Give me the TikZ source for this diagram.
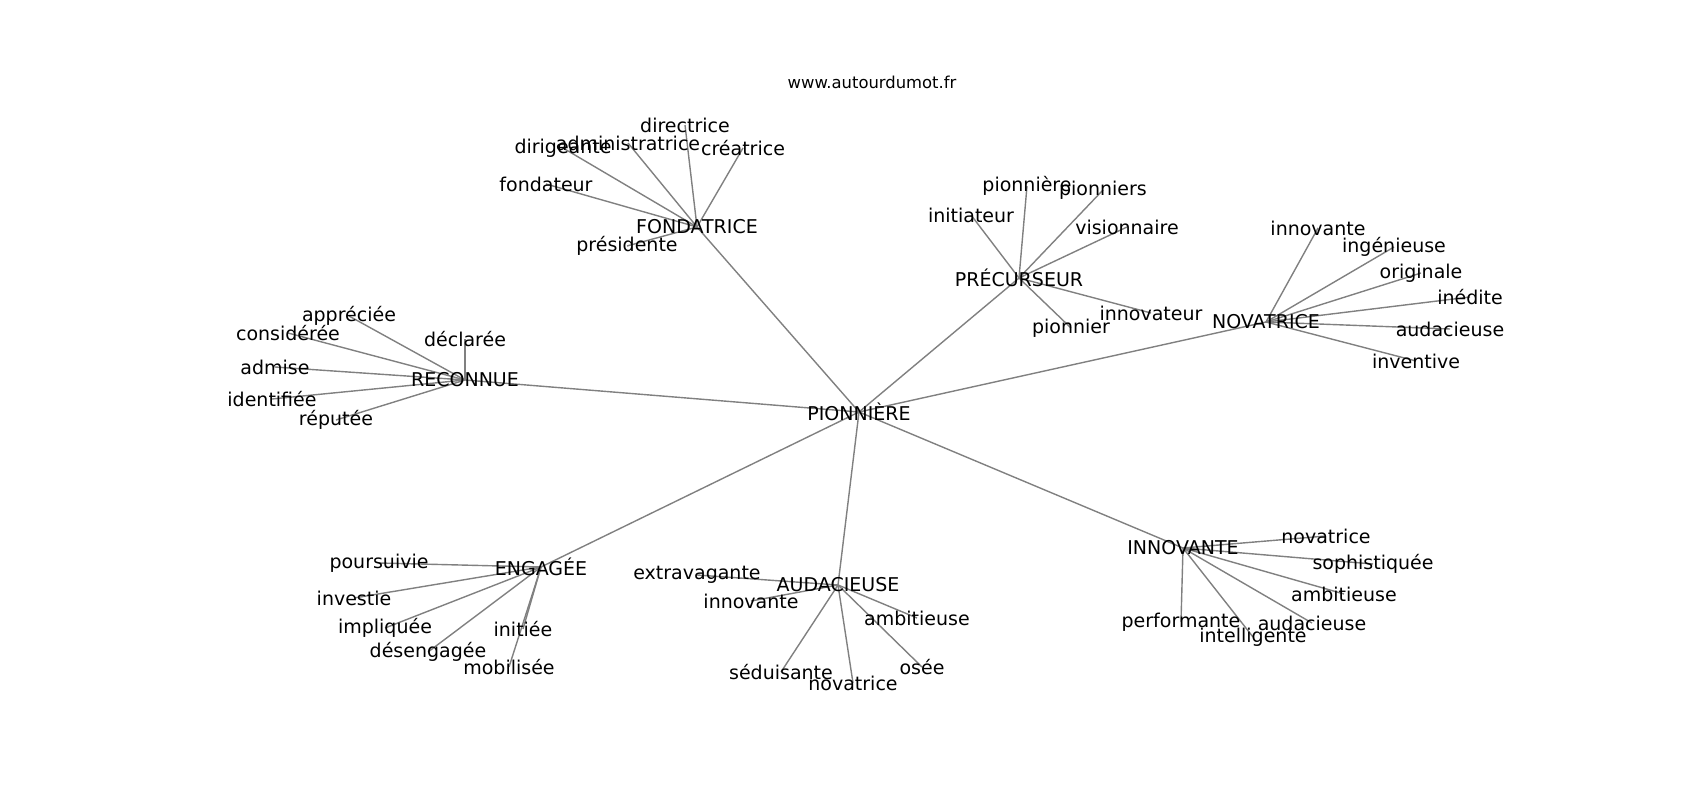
\documentclass[tikz,border=0pt]{standalone}
\usepackage{fontspec}
\setmainfont{DejaVu Sans}
\usetikzlibrary{backgrounds}
\begin{document}
\begin{tikzpicture}[x=1pt, y=-1pt,
    word/.style={font=\fontsize{19}{22}\selectfont, inner sep=0pt},
    vertex/.style={inner sep=0pt, outer sep=0pt, minimum size=0pt, label={[word]center:#1}},
    link/.style={draw=gray, line width=1.4pt}]
    \useasboundingbox (0,0) rectangle (1700,800);
    \node[font=\fontsize{16.4}{19}\selectfont] (site) at (872,82) {www.autourdumot.fr};
    % centre
    \node[vertex=PIONNIÈRE] (pionniere) at (859,412) {};
    % FONDATRICE
    \node[vertex=FONDATRICE] (fondatrice) at (697,227) {};
    \node[vertex=directrice] (fo-directrice) at (685,125) {};
    \node[vertex=administratrice] (fo-administratrice) at (628,143) {};
    \node[vertex=dirigeante] (fo-dirigeante) at (563,148) {};
    \node[vertex=créatrice] (fo-creatrice) at (743,148) {};
    \node[vertex=fondateur] (fo-fondateur) at (546,184) {};
    \node[vertex=présidente] (fo-presidente) at (627,246) {};
    % PRÉCURSEUR
    \node[vertex=PRÉCURSEUR] (precurseur) at (1019,278) {};
    \node[vertex=pionnière] (pr-pionniere) at (1027,186) {};
    \node[vertex=pionniers] (pr-pionniers) at (1103,190) {};
    \node[vertex=initiateur] (pr-initiateur) at (971,215) {};
    \node[vertex=visionnaire] (pr-visionnaire) at (1127,227) {};
    \node[vertex=innovateur] (pr-innovateur) at (1151,313) {};
    \node[vertex=pionnier] (pr-pionnier) at (1071,328) {};
    % NOVATRICE
    \node[vertex=NOVATRICE] (novatrice) at (1266,322) {};
    \node[vertex=innovante] (no-innovante) at (1318,228) {};
    \node[vertex=ingénieuse] (no-ingenieuse) at (1394,247) {};
    \node[vertex=originale] (no-originale) at (1421,273) {};
    \node[vertex=inédite] (no-inedite) at (1470,297) {};
    \node[vertex=audacieuse] (no-audacieuse) at (1450,329) {};
    \node[vertex=inventive] (no-inventive) at (1416,361) {};
    % RECONNUE
    \node[vertex=RECONNUE] (reconnue) at (465,380) {};
    \node[vertex=appréciée] (re-appreciee) at (349,316) {};
    \node[vertex=considérée] (re-consideree) at (288,333) {};
    \node[vertex=déclarée] (re-declaree) at (465,339) {};
    \node[vertex=admise] (re-admise) at (275,367) {};
    \node[vertex=identifiée] (re-identifiee) at (272,399) {};
    \node[vertex=réputée] (re-reputee) at (336,420) {};
    % ENGAGÉE
    \node[vertex=ENGAGÉE] (engagee) at (541,567) {};
    \node[vertex=poursuivie] (en-poursuivie) at (379,563) {};
    \node[vertex=investie] (en-investie) at (354,598) {};
    \node[vertex=impliquée] (en-impliquee) at (385,628) {};
    \node[vertex=désengagée] (en-desengagee) at (428,652) {};
    \node[vertex=mobilisée] (en-mobilisee) at (509,667) {};
    \node[vertex=initiée] (en-initiee) at (523,629) {};
    % AUDACIEUSE
    \node[vertex=AUDACIEUSE] (audacieuse) at (838,585) {};
    \node[vertex=extravagante] (au-extravagante) at (697,575) {};
    \node[vertex=innovante] (au-innovante) at (751,601) {};
    \node[vertex=ambitieuse] (au-ambitieuse) at (917,618) {};
    \node[vertex=osée] (au-osee) at (922,667) {};
    \node[vertex=séduisante] (au-seduisante) at (781,672) {};
    \node[vertex=novatrice] (au-novatrice) at (853,683) {};
    % INNOVANTE
    \node[vertex=INNOVANTE] (innovante) at (1183,548) {};
    \node[vertex=novatrice] (in-novatrice) at (1326,536) {};
    \node[vertex=sophistiquée] (in-sophistiquee) at (1373,564) {};
    \node[vertex=ambitieuse] (in-ambitieuse) at (1344,594) {};
    \node[vertex=audacieuse] (in-audacieuse) at (1312,623) {};
    \node[vertex=intelligente] (in-intelligente) at (1253,637) {};
    \node[vertex=performante] (in-performante) at (1181,622) {};
    \begin{scope}[on background layer]
    \path (pionniere) edge[link] (fondatrice);
    \path (pionniere) edge[link] (precurseur);
    \path (pionniere) edge[link] (novatrice);
    \path (pionniere) edge[link] (reconnue);
    \path (pionniere) edge[link] (engagee);
    \path (pionniere) edge[link] (audacieuse);
    \path (pionniere) edge[link] (innovante);
    \path (fondatrice) edge[link] (fo-directrice);
    \path (fondatrice) edge[link] (fo-administratrice);
    \path (fondatrice) edge[link] (fo-dirigeante);
    \path (fondatrice) edge[link] (fo-creatrice);
    \path (fondatrice) edge[link] (fo-fondateur);
    \path (fondatrice) edge[link] (fo-presidente);
    \path (precurseur) edge[link] (pr-pionniere);
    \path (precurseur) edge[link] (pr-pionniers);
    \path (precurseur) edge[link] (pr-initiateur);
    \path (precurseur) edge[link] (pr-visionnaire);
    \path (precurseur) edge[link] (pr-innovateur);
    \path (precurseur) edge[link] (pr-pionnier);
    \path (novatrice) edge[link] (no-innovante);
    \path (novatrice) edge[link] (no-ingenieuse);
    \path (novatrice) edge[link] (no-originale);
    \path (novatrice) edge[link] (no-inedite);
    \path (novatrice) edge[link] (no-audacieuse);
    \path (novatrice) edge[link] (no-inventive);
    \path (reconnue) edge[link] (re-appreciee);
    \path (reconnue) edge[link] (re-consideree);
    \path (reconnue) edge[link] (re-declaree);
    \path (reconnue) edge[link] (re-admise);
    \path (reconnue) edge[link] (re-identifiee);
    \path (reconnue) edge[link] (re-reputee);
    \path (engagee) edge[link] (en-poursuivie);
    \path (engagee) edge[link] (en-investie);
    \path (engagee) edge[link] (en-impliquee);
    \path (engagee) edge[link] (en-desengagee);
    \path (engagee) edge[link] (en-mobilisee);
    \path (engagee) edge[link] (en-initiee);
    \path (audacieuse) edge[link] (au-extravagante);
    \path (audacieuse) edge[link] (au-innovante);
    \path (audacieuse) edge[link] (au-ambitieuse);
    \path (audacieuse) edge[link] (au-osee);
    \path (audacieuse) edge[link] (au-seduisante);
    \path (audacieuse) edge[link] (au-novatrice);
    \path (innovante) edge[link] (in-novatrice);
    \path (innovante) edge[link] (in-sophistiquee);
    \path (innovante) edge[link] (in-ambitieuse);
    \path (innovante) edge[link] (in-audacieuse);
    \path (innovante) edge[link] (in-intelligente);
    \path (innovante) edge[link] (in-performante);
    \end{scope}
\end{tikzpicture}
\end{document}
